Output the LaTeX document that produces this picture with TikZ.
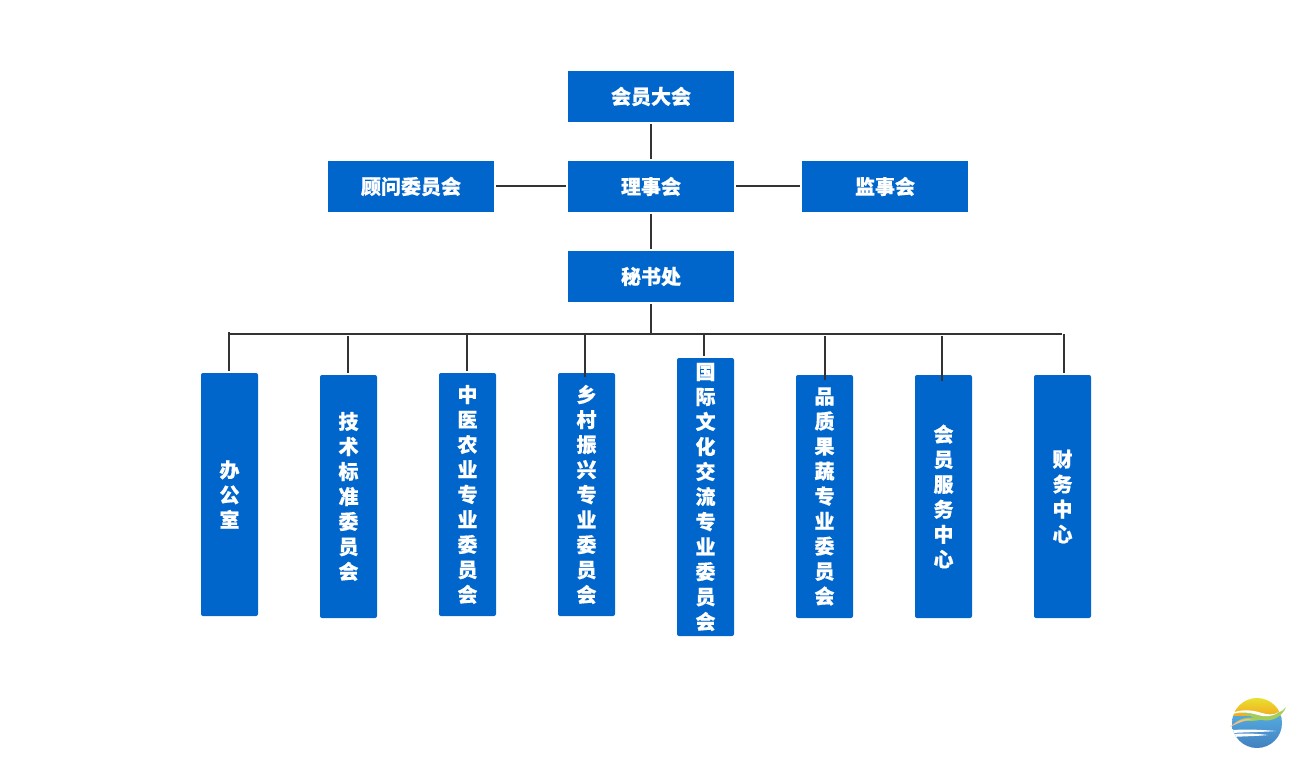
\documentclass[tikz,border=0pt]{standalone}
\usepackage{fontspec}
\newfontfamily\cjk{Noto Sans CJK SC}[BoldFeatures={FakeBold=0.5}]
\definecolor{boxblue}{RGB}{0,102,204}
\definecolor{linegray}{RGB}{51,51,51}
\definecolor{logoyellow}{RGB}{232,224,48}
\definecolor{logoorange}{RGB}{245,170,30}
\definecolor{logosky}{RGB}{84,168,222}
\definecolor{logoblue}{RGB}{66,128,192}
\definecolor{logogreen}{RGB}{165,205,90}
\definecolor{logopeach}{RGB}{245,190,130}
\tikzset{%
	hbox/.style={fill=boxblue, text=white, font=\cjk\bfseries\fontsize{15pt}{18.75pt}\selectfont, inner sep=0pt, minimum width=124.5pt, minimum height=38.25pt},
	vbox/.style={fill=boxblue, text=white, font=\cjk\bfseries\fontsize{15pt}{18.75pt}\selectfont, inner sep=0pt, rounded corners=1.5pt, minimum width=42.75pt, align=center, execute at begin node={\vspace*{1.5pt}}},
	link/.style={draw=linegray, line width=1.5pt},
	gaplink/.style={link, shorten <=1.5pt, shorten >=1.5pt},
}
\begin{document}
\begin{tikzpicture}[x=0.75pt, y=-0.75pt]
	\useasboundingbox (0,0) rectangle (1301,773);

	% Top
	\node[hbox] (dahui) at (651,96.5) {会员大会};
	\node[hbox] (lishi) at (651,186.5) {理事会};
	\node[hbox] (guwen) at (411,186.5) {顾问委员会};
	\node[hbox] (jianshi) at (885,186.5) {监事会};
	\node[hbox] (mishu) at (651,276.5) {秘书处};

	% Columns
	\node[vbox, minimum height=182.25pt] (bangong) at (229.5,494.5) {办\\公\\室};
	\node[vbox, minimum height=182.25pt] (jishu) at (348.5,496.5) {技\\术\\标\\准\\委\\员\\会};
	\node[vbox, minimum height=182.25pt] (zhongyi) at (467.5,494.5) {中\\医\\农\\业\\专\\业\\委\\员\\会};
	\node[vbox, minimum height=182.25pt] (xiangcun) at (586.5,494.5) {乡\\村\\振\\兴\\专\\业\\委\\员\\会};
	\node[vbox, minimum height=208.5pt] (guoji) at (705.5,497) {国\\际\\文\\化\\交\\流\\专\\业\\委\\员\\会};
	\node[vbox, minimum height=182.25pt] (pinzhi) at (824.5,496.5) {品\\质\\果\\蔬\\专\\业\\委\\员\\会};
	\node[vbox, minimum height=182.25pt] (fuwu) at (943.5,496.5) {会\\员\\服\\务\\中\\心};
	\node[vbox, minimum height=182.25pt] (caiwu) at (1062.5,496.5) {财\\务\\中\\心};

	% Top links
	\draw[gaplink] (dahui) -- (lishi);
	\draw[gaplink] (lishi) -- (mishu);
	\draw[gaplink] (guwen) -- (lishi);
	\draw[gaplink] (lishi) -- (jianshi);

	% Bus
	\coordinate (busleft) at (228,334);
	\coordinate (busright) at (1062,334);
	\coordinate (busmid) at (651,334);
	\draw[link] (busleft) -- (busright);
	\draw[link, shorten <=1.5pt] (mishu) -- (busmid);

	% Drops
	\coordinate (drop1) at (229,332);
	\coordinate (drop2) at (348,336);
	\coordinate (drop3) at (467,334);
	\coordinate (drop4) at (585,334);
	\coordinate (drop5) at (703.5,334);
	\coordinate (drop6) at (825,336);
	\coordinate (drop7) at (942,336);
	\coordinate (drop8) at (1064,334);
	\draw[link, shorten >=1.5pt] (drop1) -- (drop1 |- bangong.north);
	\draw[link, shorten >=1.5pt] (drop2) -- (drop2 |- jishu.north);
	\draw[link, shorten >=1pt] (drop3) -- (drop3 |- zhongyi.north);
	\draw[link, shorten >=-3pt] (drop4) -- (drop4 |- xiangcun.north);
	\draw[link, shorten >=1.5pt] (drop5) -- (drop5 |- guoji.north);
	\draw[link, shorten >=-3.75pt] (drop6) -- (drop6 |- pinzhi.north);
	\draw[link, shorten >=-4.5pt] (drop7) -- (drop7 |- fuwu.north);
	\draw[link, shorten >=1.5pt] (drop8) -- (drop8 |- caiwu.north);

	% Logo
	\begin{scope}
		\clip (1257,723) circle [radius=25];
		\shade[top color=logoyellow, bottom color=logoorange] (1232,698) rectangle (1282,716);
		\shade[top color=logosky, bottom color=logoblue] (1232,716) rectangle (1282,748);
		\fill[white] (1232,730) .. controls (1250,729) and (1265,730) .. (1276,731) .. controls (1265,732) and (1250,732) .. (1232,733);
		\fill[white] (1232,734) .. controls (1250,733) and (1260,734) .. (1268,735) .. controls (1260,736) and (1250,736) .. (1232,737);
	\end{scope}
	% Waves
	\fill[logogreen] (1238,712) .. controls (1250,708) and (1260,714) .. (1270,714) .. controls (1277,714) and (1282,712) .. (1286,707) .. controls (1282,717) and (1272,722) .. (1262,720) .. controls (1252,718) and (1245,713) .. (1238,712);
	\fill[white] (1227,716) .. controls (1236,709) and (1250,709) .. (1262,713) .. controls (1268,715) and (1274,715) .. (1279,712) .. controls (1272,717) and (1266,717) .. (1258,715) .. controls (1248,712) and (1238,711) .. (1227,716);
	\fill[logogreen] (1236,722) .. controls (1245,716) and (1254,717) .. (1264,719) .. controls (1254,722) and (1246,720) .. (1236,722);
	\fill[logopeach] (1230,727) .. controls (1236,721) and (1244,718) .. (1254,719) .. controls (1245,720) and (1238,723) .. (1230,727);
\end{tikzpicture}
\end{document}
